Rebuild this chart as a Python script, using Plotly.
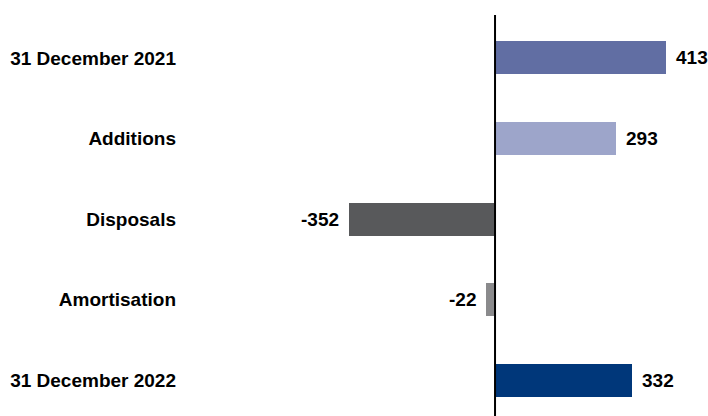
import plotly.graph_objects as go

categorias = ["31 December 2021", "Additions", "Disposals", "Amortisation", "31 December 2022"]
valores = [413, 293, -352, -22, 332]
cores = ["#616ea3", "#9da5ca", "#58595b", "#8a8a8c", "#00377a"]

FONTE = "Liberation Sans, Arial, Helvetica, sans-serif"

fig = go.Figure()

fig.add_trace(go.Bar(
    y=categorias, x=valores, orientation="h",
    marker=dict(color=cores, line=dict(width=0)),
    width=0.41,
    hoverinfo="skip",
))

# rótulos de valor fora das barras
for cat, v in zip(categorias, valores):
    fig.add_annotation(
        x=v, y=cat, text=f"<b>{v}</b>", showarrow=False,
        xanchor="left" if v >= 0 else "right",
        xshift=8 if v >= 0 else -8,
        font=dict(family=FONTE, size=19, color="#000000"),
    )

# linha do zero
fig.add_vline(x=0, line_width=2, line_color="#000000")

fig.update_layout(
    width=708, height=416,
    margin=dict(l=185, r=0, t=15, b=0, autoexpand=False),
    paper_bgcolor="white", plot_bgcolor="white",
    showlegend=False,
    font=dict(family=FONTE, size=19, color="#000000"),
    bargap=0,
)

fig.update_xaxes(
    range=[-749, 514.5], showgrid=False, zeroline=False,
    showticklabels=False, showline=False, automargin=False,
)
fig.update_yaxes(
    range=[4.447, -0.534], showgrid=False, zeroline=False, showline=False,
    tickmode="array", tickvals=categorias,
    ticktext=[f"<b>{c}</b>" for c in categorias],
    ticks="", ticklabelstandoff=8, automargin=False,
    tickfont=dict(family=FONTE, size=19, color="#000000"),
)

# tira a margem padrão do body para a figura ocupar a janela inteira
fig.write_html(
    "out.html",
    config={"displayModeBar": False},
    post_script="document.body.style.margin='0';document.body.style.overflow='hidden';",
)
